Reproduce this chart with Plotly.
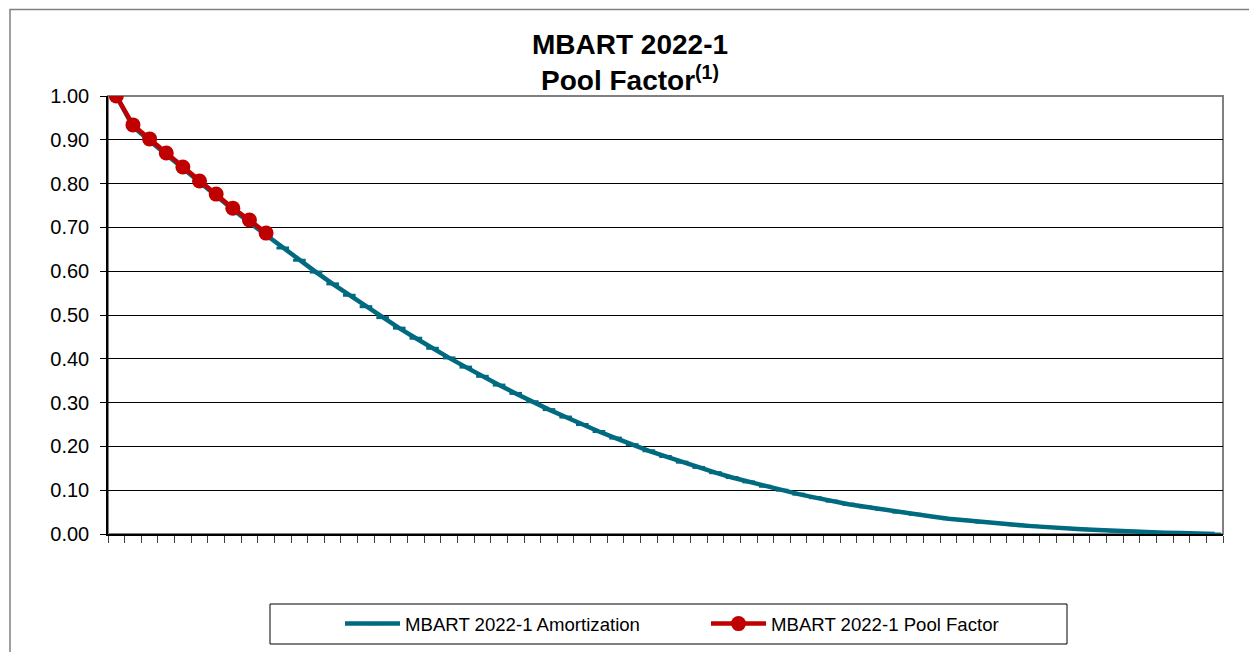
import plotly.graph_objects as go

# ---- data ----
periods = list(range(1, 68))  # 67 monthly periods on the category axis

amortization = [
    1.000, 0.930, 0.898, 0.866, 0.835, 0.803, 0.772, 0.741, 0.711, 0.682,
    0.653, 0.625, 0.598, 0.571, 0.545, 0.519, 0.494, 0.470, 0.447, 0.424,
    0.402, 0.381, 0.360, 0.340, 0.321, 0.302, 0.284, 0.267, 0.250, 0.234,
    0.219, 0.204, 0.190, 0.177, 0.164, 0.152, 0.140, 0.129, 0.119, 0.109,
    0.100, 0.091, 0.083, 0.075, 0.068, 0.062, 0.056, 0.050, 0.045, 0.040,
    0.035, 0.031, 0.027, 0.024, 0.021, 0.018, 0.015, 0.013, 0.011, 0.009,
    0.007, 0.006, 0.004, 0.003, 0.002, 0.001, 0.000,
]

pool_factor = [1.000, 0.934, 0.902, 0.870, 0.838, 0.806, 0.776, 0.744, 0.717, 0.687]

y_ticks = [0.0, 0.1, 0.2, 0.3, 0.4, 0.5, 0.6, 0.7, 0.8, 0.9, 1.0]

TEAL = "#006B80"
RED = "#C00000"
FONT = "Arial, Liberation Sans, sans-serif"

fig = go.Figure()
fig.add_trace(go.Scatter(
    x=periods, y=amortization, mode="lines+markers",
    name="MBART 2022-1 Amortization",
    line=dict(color=TEAL, width=4.5),
    marker=dict(symbol="line-ew", size=9, color=TEAL, line=dict(color=TEAL, width=3)),
))
fig.add_trace(go.Scatter(
    x=periods[:len(pool_factor)], y=pool_factor, mode="lines+markers",
    name="MBART 2022-1 Pool Factor",
    line=dict(color=RED, width=4.5),
    marker=dict(symbol="circle", size=15, color=RED),
))

n = len(periods)
# the page body has an 8px margin, so figure coords = page coords - 8
OFF = 8
FW, FH = 1257, 652
L, T = 108 - OFF, 96 - OFF
R = FW - (1223 - OFF)
B = FH - (534 - OFF)
W, H = FW - L - R, FH - T - B

def px_x(p):  # page px -> paper x
    return (p - OFF - L) / W

def px_y(p):  # page px -> paper y
    return (FH - B - (p - OFF)) / H

shapes = [
    # outer chart border
    dict(type="rect", xref="paper", yref="paper",
         x0=px_x(10), x1=px_x(1275), y0=px_y(670), y1=px_y(9.5),
         line=dict(color="#808080", width=1.5), layer="below"),
    # plot-area border (gray top/right)
    dict(type="rect", xref="paper", yref="paper", x0=0, x1=1, y0=0, y1=1,
         line=dict(color="#808080", width=2), layer="below"),
    # legend box
    dict(type="rect", xref="paper", yref="paper",
         x0=px_x(270), x1=px_x(1067), y0=px_y(644), y1=px_y(604),
         line=dict(color="#000000", width=1), layer="below"),
]

fig.update_layout(
    width=FW, height=FH,
    margin=dict(l=L, r=R, t=T, b=B, pad=0),
    paper_bgcolor="white", plot_bgcolor="white",
    font=dict(family=FONT, color="black"),
    title=dict(
        text="<b>MBART 2022-1<br>Pool Factor<sup>(1)</sup></b>",
        x=(630 - OFF) / FW, xanchor="center",
        y=1 - 46 / FH, yanchor="top", yref="container",
        font=dict(family=FONT, size=28, color="black"),
    ),
    showlegend=True,
    legend=dict(
        orientation="h", x=px_x(340), xanchor="left",
        y=px_y(624), yanchor="middle",
        font=dict(family=FONT, size=18.6, color="black"),
        bgcolor="rgba(0,0,0,0)", borderwidth=0,
        entrywidth=296, entrywidthmode="pixels",
        itemwidth=55,
    ),
    shapes=shapes,
)

fig.update_xaxes(
    range=[0.5, n + 0.5], showgrid=False, zeroline=False,
    showline=True, linecolor="black", linewidth=1.5,
    tickmode="array", tickvals=[i + 0.5 for i in range(0, n + 1)],
    showticklabels=False, ticks="outside", ticklen=7, tickcolor="#404040", tickwidth=1,
)
fig.update_yaxes(
    range=[0, 1.0], showgrid=True, gridcolor="#000000", gridwidth=1,
    zeroline=False, showline=True, linecolor="black", linewidth=1.5,
    tickmode="array", tickvals=y_ticks, tickformat=".2f",
    ticks="outside", ticklen=6, tickcolor="black", ticklabelstandoff=7,
    tickfont=dict(family=FONT, size=20, color="black"),
)

fig.write_html("out.html")
